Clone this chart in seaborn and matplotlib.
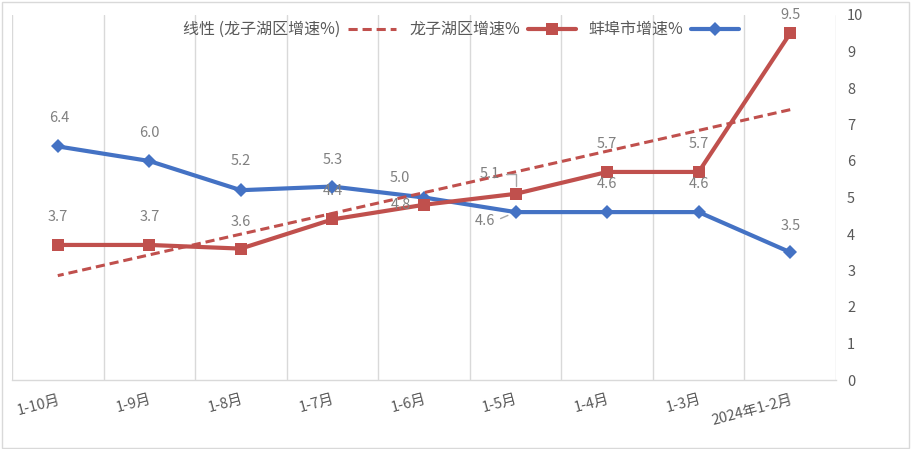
import numpy as np
import pandas as pd
import matplotlib
matplotlib.use("Agg")
import matplotlib.pyplot as plt
import seaborn as sns
from matplotlib.patches import Rectangle

categories = ["2024年1-2月", "1-3月", "1-4月", "1-5月", "1-6月", "1-7月", "1-8月", "1-9月", "1-10月"]
bengbu = [3.5, 4.6, 4.6, 4.6, 5.0, 5.3, 5.2, 6.0, 6.4]
longzihu = [9.5, 5.7, 5.7, 5.1, 4.8, 4.4, 3.6, 3.7, 3.7]
series_names = ["蚌埠市增速%", "龙子湖区增速%", "线性 (龙子湖区增速%)"]
yticks = list(range(0, 11))

# label offsets in pixels (style only)
blue_off = [(0, 26), (0, 28), (0, 28), (-31, -9), (-24, 19), (0, 27), (0, 29), (0, 28), (2, 28)]
red_off = [(0, 18), (0, 28), (0, 28), (-26, 20), (-23, 0), (0, 28), (0, 27), (0, 28), (0, 28)]

sns.set_theme(style="white")
plt.rcParams['font.family'] = ['Noto Sans CJK SC', 'DejaVu Sans']

BLUE = "#4472C4"
RED = "#C0504D"
GRAY = "#d9d9d9"

pos = np.arange(len(categories))
df = pd.DataFrame({"pos": pos, "cat": categories, "bengbu": bengbu, "longzihu": longzihu})
coef = np.polyfit(pos, df["longzihu"], 1)
df["trend"] = np.polyval(coef, pos)

fig = plt.figure(figsize=(9.12, 4.49), dpi=100)
ax = fig.add_axes([12 / 912, 1 - 380 / 449, 824 / 912, 365 / 449])

sns.lineplot(data=df, x="pos", y="bengbu", ax=ax, color=BLUE, lw=3, marker="D",
             markersize=7.5, markeredgewidth=0, label=series_names[0], zorder=3, sort=False)
sns.lineplot(data=df, x="pos", y="longzihu", ax=ax, color=RED, lw=3, marker="s",
             markersize=8, markeredgewidth=0, label=series_names[1], zorder=4, sort=False)
sns.lineplot(data=df, x="pos", y="trend", ax=ax, color=RED, lw=2.2, linestyle=(0, (3, 1.6)),
             label=series_names[2], zorder=5, sort=False)

lab_kw = dict(textcoords="offset pixels", ha="center", va="center", fontsize=10.5,
              color="#808080", zorder=6, annotation_clip=False)
for i in range(len(categories)):
    for k, (vals, offs) in enumerate(((bengbu, blue_off), (longzihu, red_off))):
        dx, dy = offs[i]
        txt = f"{vals[i]:.1f}"
        if categories[i] == "1-5月":
            if k == 0:
                cs = "arc3,rad=0"
            else:
                cs = "angle,angleA=0,angleB=90,rad=0"
            ax.annotate(txt, (pos[i], vals[i]), xytext=(dx, dy),
                        arrowprops=dict(arrowstyle="-", color="#a6a6a6", lw=1,
                                        shrinkA=2, shrinkB=6, relpos=(1, 0.5),
                                        connectionstyle=cs),
                        **lab_kw)
        else:
            ax.annotate(txt, (pos[i], vals[i]), xytext=(dx, dy), **lab_kw)

ax.set_xlim(len(categories) - 0.5, -0.5)
ax.set_ylim(0, 10)
ax.set_xticks(pos)
ax.set_xticklabels(categories, rotation=15, ha="right", rotation_mode="anchor",
                   fontsize=10.5, color="#595959")
ax.set_xticks(np.arange(-0.5, len(categories), 1.0), minor=True)
ax.grid(True, which="minor", axis="x", color=GRAY, lw=1)
ax.grid(False, which="major")
ax.yaxis.tick_right()
ax.set_yticks(yticks)
ax.tick_params(axis="y", length=0, pad=8, labelsize=10.5, labelcolor="#595959")
ax.tick_params(axis="x", which="both", length=0, pad=9)
ax.set_xlabel("")
ax.set_ylabel("")
for s in ["top", "left", "right"]:
    ax.spines[s].set_visible(False)
ax.spines["bottom"].set_color(GRAY)
ax.spines["bottom"].set_linewidth(1)

h, l = ax.get_legend_handles_labels()
order = [2, 1, 0]
leg = ax.legend([h[i] for i in order], [l[i] for i in order], loc="center",
                bbox_to_anchor=(0.545, 0.96), ncol=3, frameon=False, markerfirst=False,
                fontsize=11.5, handlelength=3, columnspacing=0.8, handletextpad=0.5)
for t in leg.get_texts():
    t.set_color("#595959")

fig.patches.append(Rectangle((0.002, 0.003), 0.995, 0.993, transform=fig.transFigure,
                             fill=False, edgecolor=GRAY, lw=1))
fig.savefig("out.png", dpi=100)
